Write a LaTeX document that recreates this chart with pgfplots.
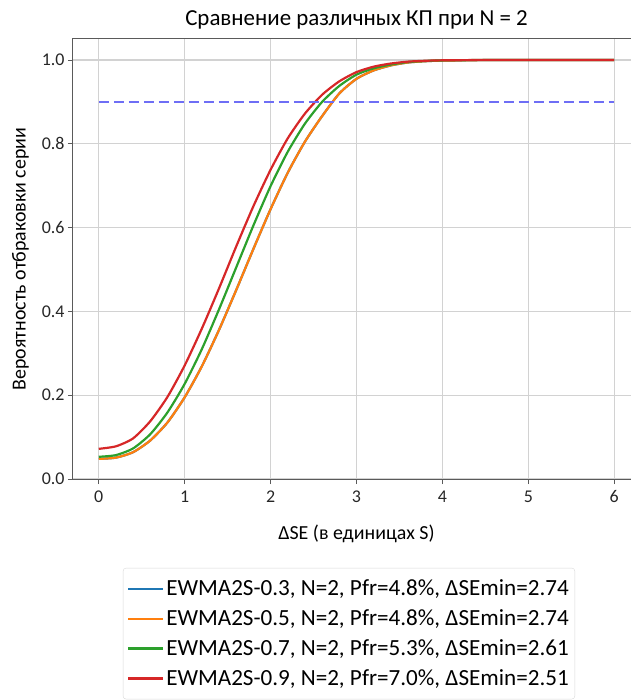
\documentclass[border=0pt]{standalone}
\usepackage{fontspec}
\setmainfont{Carlito}
\usepackage{pgfplots}
\pgfplotsset{compat=1.18}
\usetikzlibrary{calc}

\definecolor{tabblue}{HTML}{1F77B4}
\definecolor{taborange}{HTML}{FF7F0E}
\definecolor{tabgreen}{HTML}{2CA02C}
\definecolor{tabred}{HTML}{D62728}
\definecolor{refline}{HTML}{6E6EF5}
\definecolor{spine}{HTML}{5A5A5A}

% orange and blue curves coincide
\pgfplotstableread{
x     y
0.0   0.048
0.2   0.051
0.4   0.064
0.6   0.092
0.8   0.135
1.0   0.195
1.2   0.269
1.4   0.356
1.6   0.451
1.8   0.549
2.0   0.644
2.2   0.731
2.4   0.805
2.6   0.866
2.8   0.920
3.0   0.955
3.2   0.975
3.4   0.987
3.6   0.994
3.8   0.997
4.0   0.9985
4.5   0.9997
5.0   1.0
5.5   1.0
6.0   1.0
}\ewmafive

\pgfplotstableread{
x     y
0.0   0.053
0.2   0.057
0.4   0.073
0.6   0.107
0.8   0.159
1.0   0.227
1.2   0.310
1.4   0.405
1.6   0.505
1.8   0.605
2.0   0.699
2.2   0.781
2.4   0.848
2.6   0.900
2.8   0.938
3.0   0.965
3.2   0.980
3.4   0.989
3.6   0.995
3.8   0.9975
4.0   0.9989
4.5   0.9999
5.0   1.0
5.5   1.0
6.0   1.0
}\ewmaseven

\pgfplotstableread{
x     y
0.0   0.072
0.2   0.078
0.4   0.097
0.6   0.138
0.8   0.196
1.0   0.271
1.2   0.359
1.4   0.455
1.6   0.555
1.8   0.651
2.0   0.738
2.2   0.813
2.4   0.872
2.6   0.917
2.8   0.949
3.0   0.971
3.2   0.984
3.4   0.9915
3.6   0.996
3.8   0.998
4.0   0.9991
4.5   0.9999
5.0   1.0
5.5   1.0
6.0   1.0
}\ewmanine

\begin{document}
\begin{tikzpicture}
\begin{axis}[
    name=main,
    scale only axis,
    width=567bp, height=440bp,
    xmin=-0.3, xmax=6.3,
    ymin=0, ymax=1.05,
    xtick={0,1,2,3,4,5,6},
    ytick={0,0.2,0.4,0.6,0.8,1.0},
    yticklabel style={/pgf/number format/.cd, fixed, fixed zerofill, precision=1},
    /pgf/number format/assume math mode=true,
    tick label style={font=\fontsize{18}{21}\selectfont, text=black!85},
    xticklabel style={yshift=-3bp},
    tick align=outside,
    tick pos=left,
    major tick length=5bp,
    every tick/.style={spine, line width=0.9bp},
    axis line style={spine, line width=1bp},
    grid=major,
    major grid style={gray!35, line width=1.1bp},
    title={Сравнение различных КП при N = 2},
    title style={font=\fontsize{23}{26}\selectfont, anchor=base, at={(0.5,1)}, yshift=8bp},
    xlabel={ΔSE (в единицах S)},
    ylabel={Вероятность отбраковки серии},
    label style={font=\fontsize{20}{23}\selectfont},
    xlabel style={yshift=-15bp},
    ylabel style={yshift=6bp},
    legend style={
        at={(0.088,-0.202)}, anchor=north west,
        draw=gray!30, rounded corners=3bp,
        font=\fontsize{23.2}{26}\selectfont,
        row sep=8.5bp, inner xsep=4bp, inner ysep=10bp,
        cells={anchor=west},
    },
    legend image code/.code={\draw[#1, line width=2.2bp] (0bp,0bp) -- (35bp,0bp);},
    legend cell align=left,
]
\addplot[tabblue, line width=2.2bp, smooth, tension=0.4] table {\ewmafive};
\addlegendentry{EWMA2S-0.3, N=2, Pfr=4.8\%, ΔSEmin=2.74}
\addplot[taborange, line width=2.2bp, smooth, tension=0.4] table {\ewmafive};
\addlegendentry{EWMA2S-0.5, N=2, Pfr=4.8\%, ΔSEmin=2.74}
\addplot[tabgreen, line width=2.2bp, smooth, tension=0.4] table {\ewmaseven};
\addlegendentry{EWMA2S-0.7, N=2, Pfr=5.3\%, ΔSEmin=2.61}
\addplot[tabred, line width=2.2bp, smooth, tension=0.4] table {\ewmanine};
\addlegendentry{EWMA2S-0.9, N=2, Pfr=7.0\%, ΔSEmin=2.51}
\addplot[refline, line width=2.6bp, dash pattern=on 10bp off 5bp, forget plot] coordinates {(0,0.9) (6,0.9)};
\end{axis}
\pgfresetboundingbox
\path[use as bounding box] ($(main.south west)+(-73bp,-221bp)$) rectangle ($(main.south west)+(558bp,479bp)$);
\end{tikzpicture}
\end{document}
